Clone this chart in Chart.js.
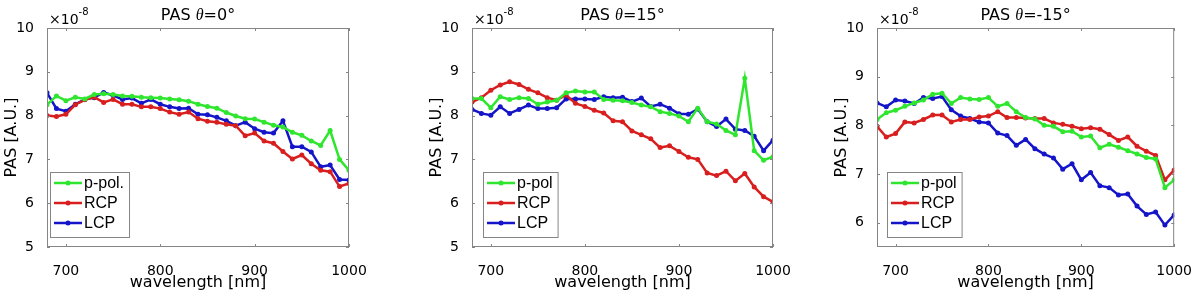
<!DOCTYPE html>
<html>
<head>
<meta charset="utf-8">
<script src="https://cdn.jsdelivr.net/npm/chart.js@4"></script>
<style>
  body { margin: 0; background: #fff; }
  #wrap { position: relative; width: 1200px; height: 297px; }
  #wrap canvas { position: absolute; top: 0; }
</style>
</head>
<body>
<div id="wrap">
  <canvas id="c0" width="400" height="297" style="left:0px"></canvas>
  <canvas id="c1" width="400" height="297" style="left:400px"></canvas>
  <canvas id="c2" width="400" height="297" style="left:800px"></canvas>
</div>
<script>
// wavelength in nm
const wavelengths = [680, 690, 700, 710, 720, 730, 740, 750, 760, 770, 780, 790, 800, 810, 820, 830, 840,
    850, 860, 870, 880, 890, 900, 910, 920, 930, 940, 950, 960, 970, 980, 990, 1000];
const xTicks = [700, 800, 900, 1000];

// PAS values, x1e-8
const ppol0 = [8.25, 8.45, 8.34, 8.42, 8.38, 8.48, 8.5, 8.48, 8.45, 8.44, 8.42, 8.41, 8.4, 8.38, 8.36, 8.33, 8.26,
    8.21, 8.17, 8.07, 7.99, 7.93, 7.92, 7.85, 7.78, 7.74, 7.62, 7.55, 7.42, 7.32, 7.66, 7.0, 6.75];
const rcp0 = [8.0, 7.98, 8.03, 8.25, 8.36, 8.42, 8.3, 8.37, 8.26, 8.26, 8.2, 8.2, 8.16, 8.08, 8.03, 8.08, 7.93,
    7.87, 7.85, 7.8, 7.77, 7.54, 7.6, 7.42, 7.37, 7.18, 7.01, 7.1, 6.9, 6.75, 6.72, 6.38, 6.45];
const lcp0 = [8.52, 8.16, 8.1, 8.26, 8.37, 8.41, 8.53, 8.46, 8.37, 8.4, 8.28, 8.37, 8.26, 8.2, 8.16, 8.17, 8.03,
    8.02, 7.96, 7.88, 7.77, 7.85, 7.7, 7.62, 7.6, 7.88, 7.29, 7.29, 7.17, 6.83, 6.87, 6.54, 6.53];

const ppol15 = [8.39, 8.39, 8.18, 8.43, 8.37, 8.41, 8.39, 8.26, 8.31, 8.35, 8.52, 8.56, 8.54, 8.54, 8.37, 8.35, 8.34,
    8.3, 8.24, 8.2, 8.09, 8.05, 7.99, 7.86, 8.17, 7.86, 7.81, 7.66, 7.56, 8.85, 7.2, 6.98, 7.06];
const rcp15 = [8.31, 8.41, 8.58, 8.7, 8.77, 8.71, 8.6, 8.52, 8.41, 8.35, 8.47, 8.28, 8.21, 8.12, 8.06, 7.88, 7.86,
    7.65, 7.56, 7.47, 7.27, 7.31, 7.18, 7.05, 7.0, 6.69, 6.63, 6.73, 6.51, 6.68, 6.37, 6.15, 6.03];
const lcp15 = [8.14, 8.05, 8.01, 8.2, 8.05, 8.14, 8.24, 8.16, 8.16, 8.18, 8.38, 8.38, 8.38, 8.37, 8.43, 8.41, 8.42,
    8.32, 8.4, 8.21, 8.26, 8.17, 8.04, 8.03, 8.15, 7.86, 7.75, 7.92, 7.69, 7.66, 7.53, 7.2, 7.44];

const ppolM15 = [8.12, 8.26, 8.31, 8.39, 8.46, 8.52, 8.64, 8.66, 8.45, 8.57, 8.54, 8.53, 8.57, 8.39, 8.45, 8.28, 8.16,
    8.13, 8.0, 7.98, 7.87, 7.88, 7.76, 7.78, 7.54, 7.61, 7.55, 7.48, 7.41, 7.34, 7.31, 6.72, 6.88];
const rcpM15 = [7.98, 7.76, 7.83, 8.07, 8.05, 8.12, 8.21, 8.21, 8.07, 8.12, 8.12, 8.17, 8.19, 8.28, 8.16, 8.16, 8.15,
    8.14, 8.14, 8.05, 8.02, 7.98, 7.93, 7.95, 7.92, 7.81, 7.69, 7.76, 7.57, 7.47, 7.38, 6.88, 7.08];
const lcpM15 = [8.46, 8.38, 8.52, 8.5, 8.45, 8.57, 8.55, 8.59, 8.32, 8.19, 8.14, 8.07, 8.05, 7.84, 7.79, 7.59, 7.71,
    7.52, 7.41, 7.33, 7.1, 7.21, 6.88, 7.03, 6.76, 6.72, 6.57, 6.59, 6.34, 6.17, 6.22, 5.95, 6.16];

const titles = ['=0°', '=15°', '=-15°'];
const legendLabels = [['p-pol.', 'RCP', 'LCP'], ['p-pol', 'RCP', 'LCP'], ['p-pol', 'RCP', 'LCP']];
const colors = ['#2ee62e', '#d81e1e', '#1414c8'];

const SANS = '"DejaVu Sans", sans-serif';
const LEG = '"Liberation Sans", Arial, sans-serif';
const FRAME = '#858585';

// draws the matlab style frame, title, exponent, axis labels and legend
function decorPlugin(titleTail, labels, legendDx) {
    return {
        id: 'decor',
        afterDraw(chart) {
            const ctx = chart.ctx;
            const a = chart.chartArea;
            const xs = chart.scales.x, ys = chart.scales.y;
            ctx.save();

            // box + inward ticks
            ctx.strokeStyle = FRAME;
            ctx.lineWidth = 1;
            ctx.strokeRect(a.left + 0.5, a.top + 0.5, a.right - a.left - 1, a.bottom - a.top - 1);
            ctx.beginPath();
            xs.ticks.forEach(t => {
                const px = Math.round(xs.getPixelForValue(t.value)) + 0.5;
                ctx.moveTo(px, a.bottom); ctx.lineTo(px, a.bottom - 3);
                ctx.moveTo(px, a.top); ctx.lineTo(px, a.top + 3);
            });
            ys.ticks.forEach(t => {
                const py = Math.round(ys.getPixelForValue(t.value)) + 0.5;
                ctx.moveTo(a.left, py); ctx.lineTo(a.left + 3, py);
                ctx.moveTo(a.right, py); ctx.lineTo(a.right - 3, py);
            });
            ctx.stroke();

            // title: PAS θ=..
            ctx.fillStyle = '#000';
            ctx.textBaseline = 'alphabetic';
            ctx.textAlign = 'left';
            const fSans = '16px ' + SANS;
            const fTheta = 'italic 16px "Liberation Serif", serif';
            ctx.font = fSans;
            const w1 = ctx.measureText('PAS ').width;
            const w3 = ctx.measureText(titleTail).width;
            ctx.font = fTheta;
            const w2 = ctx.measureText('θ').width;
            let tx = (a.left + a.right) / 2 - (w1 + w2 + w3) / 2;
            ctx.font = fSans; ctx.fillText('PAS ', tx, 20); tx += w1;
            ctx.font = fTheta; ctx.fillText('θ', tx, 20); tx += w2;
            ctx.font = fSans; ctx.fillText(titleTail, tx, 20);

            // exponent
            ctx.font = '14px ' + SANS;
            ctx.fillText('×10', a.left + 2, 24);
            const ew = ctx.measureText('×10').width;
            ctx.font = '10px ' + SANS;
            ctx.fillText('-8', a.left + 2 + ew, 15);

            // axis titles
            ctx.font = '16px ' + SANS;
            ctx.textAlign = 'center';
            ctx.fillText('wavelength [nm]', (a.left + a.right) / 2, 287);
            ctx.save();
            ctx.translate(a.left - 31, (a.top + a.bottom) / 2);
            ctx.rotate(-Math.PI / 2);
            ctx.fillText('PAS [A.U.]', 0, 0);
            ctx.restore();

            // legend
            ctx.font = '16px ' + LEG;
            const tw = Math.max(...labels.map(l => ctx.measureText(l).width));
            const bx = a.left + legendDx, by = a.bottom - 75, bw = 34 + tw + 5, bh = 65;
            ctx.fillStyle = '#fff';
            ctx.fillRect(bx, by, bw, bh);
            ctx.strokeStyle = FRAME;
            ctx.strokeRect(bx + 0.5, by + 0.5, bw, bh);
            ctx.textAlign = 'left';
            ctx.textBaseline = 'middle';
            labels.forEach((l, i) => {
                const ry = by + 11 + i * 20;
                ctx.strokeStyle = colors[i];
                ctx.lineWidth = 2.5;
                ctx.beginPath();
                ctx.moveTo(bx + 4, ry); ctx.lineTo(bx + 32, ry);
                ctx.stroke();
                ctx.fillStyle = colors[i];
                ctx.beginPath();
                ctx.arc(bx + 18, ry, 2.5, 0, Math.PI * 2);
                ctx.fill();
                ctx.fillStyle = '#000';
                ctx.fillText(l, bx + 34, ry + 1);
            });
            ctx.restore();
        }
    };
}

function makePanel(id, series, idx, yMin, yTicks, axisWidth, padRight, legendDx) {
    const datasets = series.map((vals, i) => ({
        label: legendLabels[idx][i],
        data: wavelengths.map((w, j) => ({ x: w, y: vals[j] })),
        borderColor: colors[i],
        backgroundColor: colors[i],
        borderWidth: 2.5,
        pointRadius: 2.5,
        pointBorderWidth: 0,
        tension: 0
    }));

    new Chart(document.getElementById(id), {
        type: 'line',
        data: { datasets },
        options: {
            responsive: false,
            animation: false,
            devicePixelRatio: 1,
            layout: { padding: { left: 0, right: padRight, top: 28, bottom: 0 } },
            plugins: { legend: { display: false }, title: { display: false }, tooltip: { enabled: false } },
            scales: {
                x: {
                    type: 'linear',
                    min: 680,
                    max: 1000,
                    grid: { display: false },
                    border: { display: false },
                    ticks: {
                        color: '#000', padding: 8, maxRotation: 0,
                        font: { family: SANS, size: 14 },
                        callback: v => String(v)
                    },
                    afterBuildTicks: s => { s.ticks = xTicks.map(v => ({ value: v })); },
                    afterFit: s => { s.height = 50; }
                },
                y: {
                    min: yMin,
                    max: 10,
                    grid: { display: false },
                    border: { display: false },
                    ticks: { color: '#000', padding: 5, font: { family: SANS, size: 14 } },
                    afterBuildTicks: s => { s.ticks = yTicks.map(v => ({ value: v })); },
                    afterFit: s => { s.width = axisWidth; }
                }
            }
        },
        plugins: [decorPlugin(titles[idx], legendLabels[idx], legendDx)]
    });
}

makePanel('c0', [ppol0, rcp0, lcp0], 0, 5, [5, 6, 7, 8, 9, 10], 47, 51, 3);
makePanel('c1', [ppol15, rcp15, lcp15], 1, 5, [5, 6, 7, 8, 9, 10], 72, 27, 11);
makePanel('c2', [ppolM15, rcpM15, lcpM15], 2, 5.5, [6, 7, 8, 9, 10], 77, 22, 10);
</script>
</body>
</html>
